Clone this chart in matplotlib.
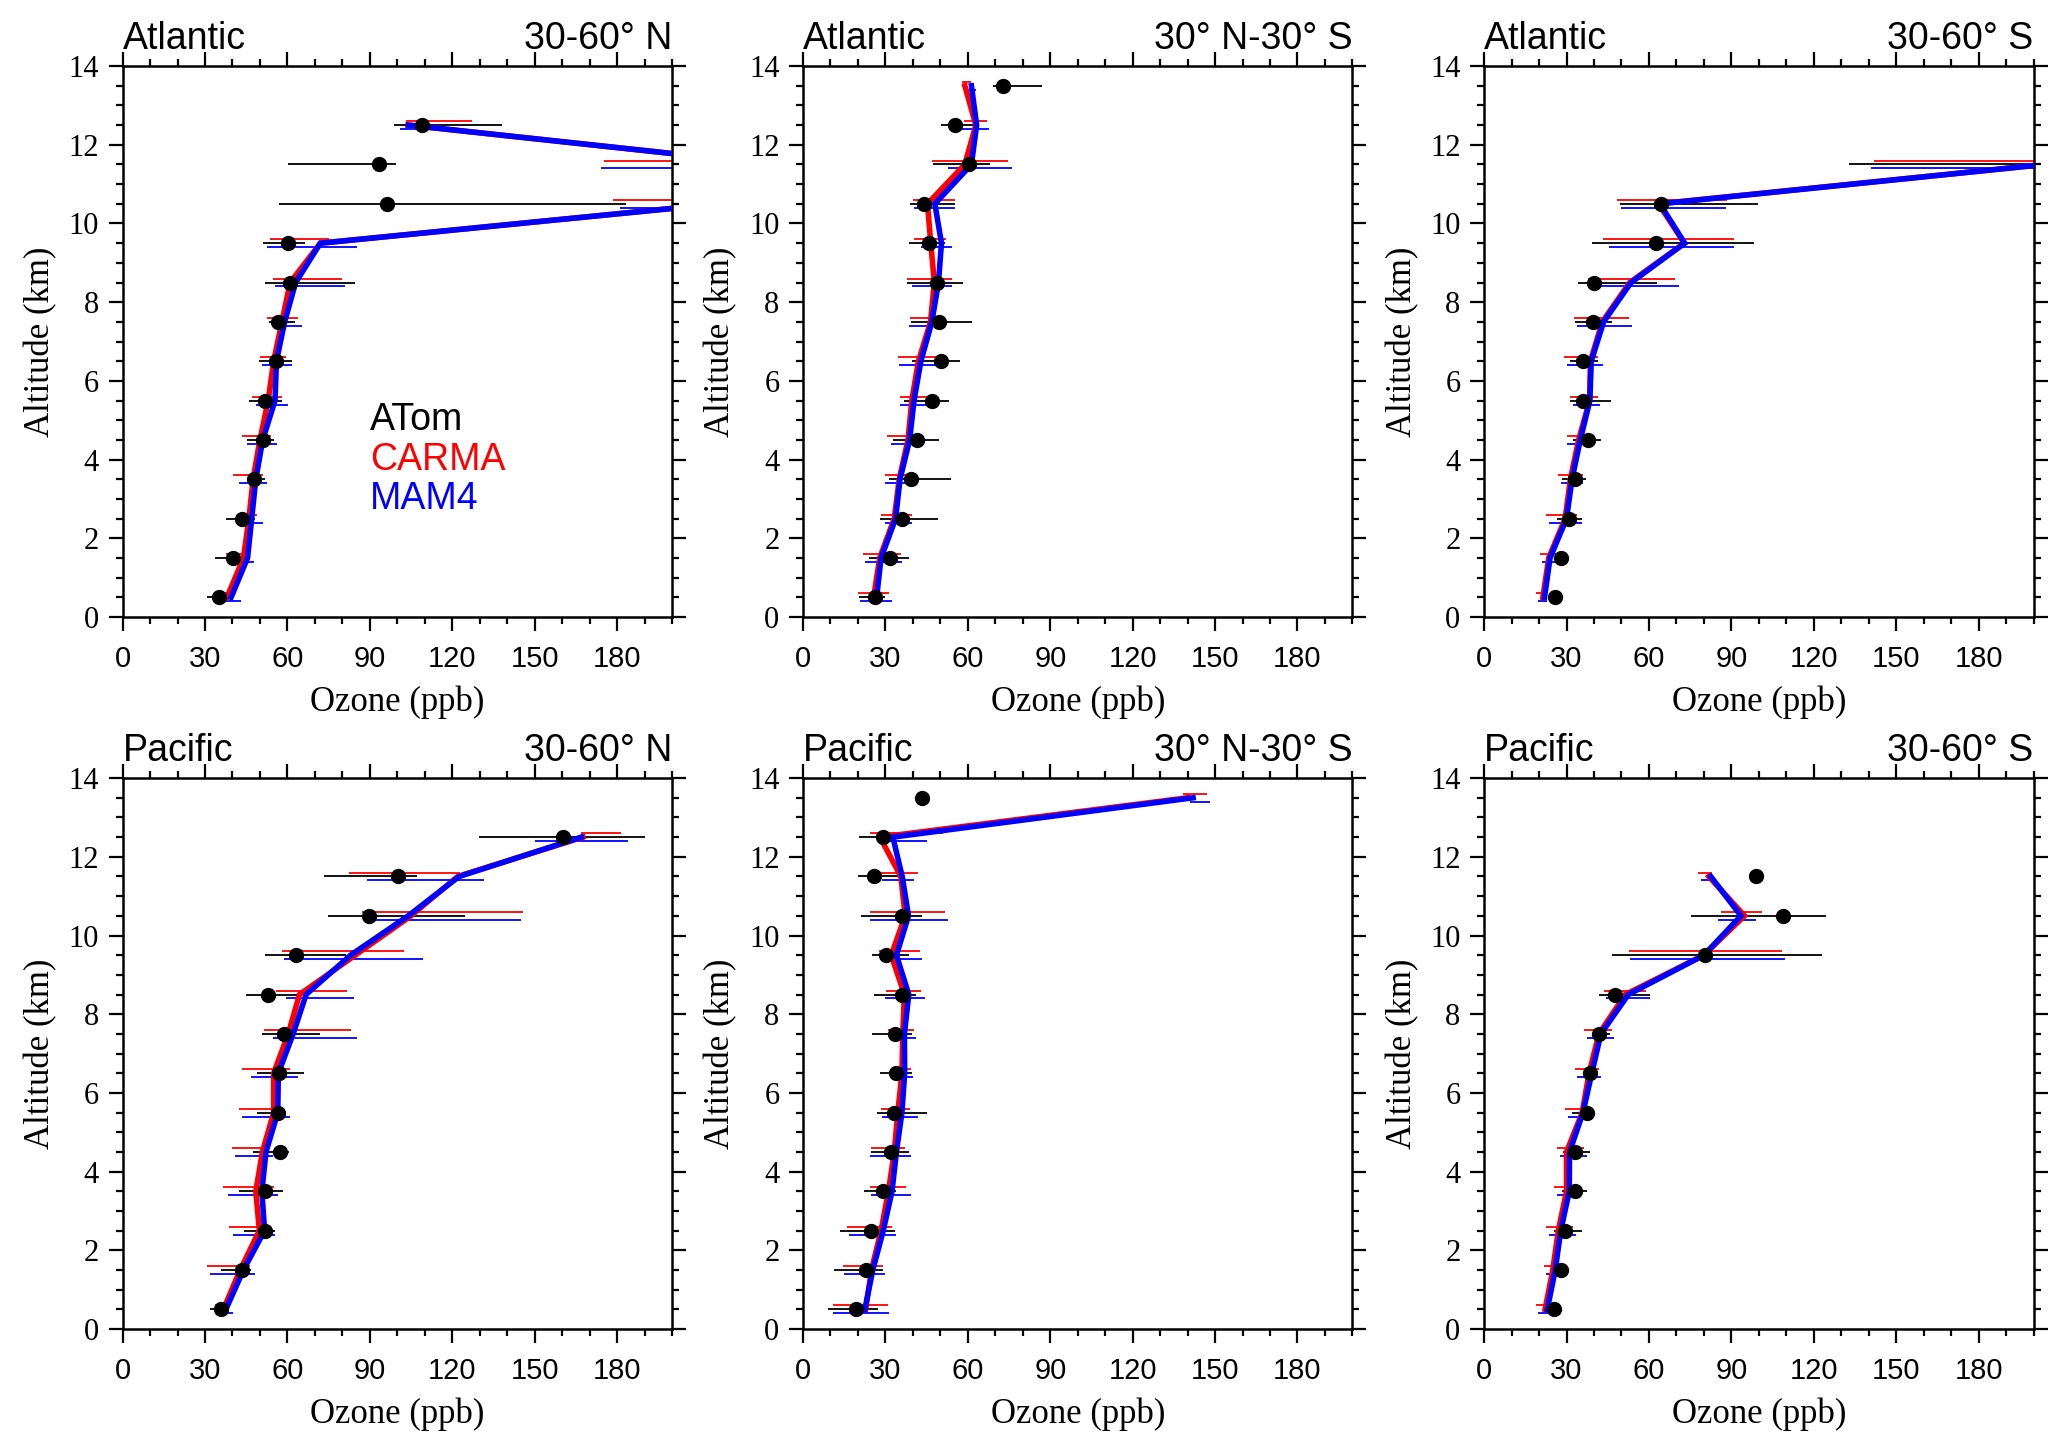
import numpy as np
import matplotlib
matplotlib.use('Agg')
import matplotlib.pyplot as plt

nan = np.nan

# altitude bins (km), ATom observations and the two model runs
levels = [0.5, 1.5, 2.5, 3.5, 4.5, 5.5, 6.5, 7.5, 8.5, 9.5, 10.5, 11.5, 12.5, 13.5]
xticks = [0, 30, 60, 90, 120, 150, 180]
xtick_labels = ['0', '30', '60', '90', '120', '150', '180']
yticks = [0, 2, 4, 6, 8, 10, 12, 14]
ytick_labels = ['0', '2', '4', '6', '8', '10', '12', '14']
basins = ['Atlantic', 'Atlantic', 'Atlantic', 'Pacific', 'Pacific', 'Pacific']
bands = ['30-60\u00b0 N', '30\u00b0 N-30\u00b0 S', '30-60\u00b0 S',
         '30-60\u00b0 N', '30\u00b0 N-30\u00b0 S', '30-60\u00b0 S']
legend_names = ['ATom', 'CARMA', 'MAM4']

# Atlantic 30-60N
atl_n_atom = [35.1, 40.3, 43.3, 47.8, 51.0, 51.7, 55.8, 56.6, 60.8, 60.2, 96.3, 93.3, 109.0, nan]
atl_n_atom_lo = [30.6, 33.5, 37.7, 45.5, 45.2, 45.9, 49.8, 53.3, 51.7, 51.1, 56.9, 60.3, 98.9, nan]
atl_n_atom_hi = [38.4, 44.6, 48.1, 51.7, 55.3, 57.9, 61.5, 62.8, 84.7, 66.3, 183.4, 99.5, 138.2, nan]
atl_n_carma = [38.0, 44.0, 46.0, 47.5, 50.0, 53.0, 55.0, 58.0, 61.0, 72.0, 217.0, 237.0, 104.0, nan]
atl_n_carma_lo = [36.4, 37.7, 41.6, 40.3, 43.4, 47.0, 50.2, 52.7, 54.6, 53.7, 178.7, 175.3, 103.0, nan]
atl_n_carma_hi = [41.3, 46.5, 48.9, 51.0, 54.0, 58.2, 59.5, 63.9, 80.0, 75.0, 255.0, 299.0, 127.2, nan]
atl_n_mam4 = [39.5, 45.5, 47.0, 48.5, 51.0, 55.5, 56.0, 59.0, 63.0, 72.0, 217.0, 237.0, 104.0, nan]
atl_n_mam4_lo = [33.5, 40.0, 43.3, 42.4, 45.4, 48.6, 50.9, 54.6, 55.4, 52.7, 181.0, 174.0, 101.0, nan]
atl_n_mam4_hi = [43.0, 48.0, 51.0, 52.7, 56.3, 60.3, 61.5, 65.2, 81.1, 85.5, 253.0, 300.0, 118.4, nan]

# Atlantic 30N-30S
atl_t_atom = [26.3, 31.6, 36.0, 39.3, 41.4, 47.0, 50.1, 49.4, 48.8, 45.7, 44.1, 60.5, 55.5, 72.9]
atl_t_atom_lo = [20.4, 24.1, 27.9, 31.3, 32.7, 36.8, 39.6, 39.3, 37.7, 38.5, 38.8, 47.2, 50.4, 69.0]
atl_t_atom_hi = [29.7, 38.5, 49.0, 53.8, 49.6, 53.0, 57.1, 61.6, 58.1, 51.7, 55.5, 68.0, 62.9, 87.0]
atl_t_carma = [25.7, 27.9, 33.2, 35.0, 38.2, 39.6, 42.0, 46.4, 47.8, 46.5, 45.3, 58.9, 62.9, 58.9]
atl_t_carma_lo = [20.0, 21.7, 28.4, 29.7, 30.5, 35.2, 34.5, 38.8, 37.7, 40.4, 40.0, 46.9, 58.6, 57.8]
atl_t_carma_hi = [31.3, 35.6, 39.6, 41.0, 42.5, 45.3, 49.0, 50.0, 54.1, 52.2, 55.5, 74.6, 67.1, 61.3]
atl_t_mam4 = [26.8, 28.4, 33.7, 35.3, 38.8, 40.4, 42.9, 46.9, 49.3, 50.4, 48.0, 61.3, 63.2, 61.3]
atl_t_mam4_lo = [20.7, 22.5, 29.7, 30.0, 31.9, 35.2, 34.8, 38.5, 39.6, 42.9, 40.4, 52.6, 57.8, 59.5]
atl_t_mam4_hi = [32.3, 36.0, 39.6, 41.0, 44.1, 46.4, 48.5, 50.0, 54.1, 54.3, 55.5, 75.9, 67.7, 63.0]

# Atlantic 30-60S
atl_s_atom = [25.8, 27.9, 31.0, 33.0, 38.0, 36.0, 36.0, 39.7, 40.0, 62.7, 64.4, 205.0, nan, nan]
atl_s_atom_lo = [24.3, 26.0, 26.6, 28.2, 32.4, 31.1, 31.4, 33.0, 34.0, 39.2, 49.3, 133.0, nan, nan]
atl_s_atom_hi = [27.4, 29.8, 35.5, 37.1, 42.5, 46.2, 41.6, 46.7, 62.9, 98.2, 99.8, 277.0, nan, nan]
atl_s_carma = [21.4, 23.5, 29.5, 31.4, 34.4, 38.4, 38.7, 43.0, 53.0, 72.9, 63.5, 204.0, nan, nan]
atl_s_carma_lo = [19.0, 20.3, 22.7, 27.0, 30.0, 31.4, 29.0, 32.7, 38.0, 43.4, 48.3, 142.0, nan, nan]
atl_s_carma_hi = [22.7, 27.9, 33.9, 36.0, 40.0, 41.3, 41.6, 52.7, 69.4, 91.0, 88.3, 266.0, nan, nan]
atl_s_mam4 = [22.0, 24.0, 30.0, 32.0, 35.0, 38.5, 39.0, 43.5, 53.5, 73.0, 64.0, 204.0, nan, nan]
atl_s_mam4_lo = [19.8, 20.9, 23.8, 27.9, 30.3, 32.4, 30.0, 33.9, 40.8, 45.4, 50.0, 141.0, nan, nan]
atl_s_mam4_hi = [23.0, 27.9, 35.5, 36.0, 39.5, 42.1, 43.3, 54.0, 71.0, 91.0, 88.0, 267.0, nan, nan]

# Pacific 30-60N
pac_n_atom = [35.9, 43.6, 51.9, 51.7, 57.2, 56.6, 56.9, 58.9, 52.8, 63.1, 89.8, 100.2, 160.3, nan]
pac_n_atom_lo = [31.9, 35.9, 44.1, 42.3, 47.5, 49.1, 49.1, 50.7, 44.9, 51.9, 74.8, 73.2, 129.8, nan]
pac_n_atom_hi = [38.4, 46.8, 55.4, 58.4, 60.5, 59.5, 66.0, 71.9, 64.7, 81.5, 124.6, 107.3, 190.0, nan]
pac_n_carma = [36.7, 42.8, 49.8, 48.5, 50.9, 55.0, 55.0, 60.3, 64.4, 84.7, 105.0, 122.0, 167.6, nan]
pac_n_carma_lo = [33.5, 30.9, 38.7, 36.7, 39.7, 42.4, 43.6, 51.4, 55.9, 58.2, 87.2, 82.6, 167.0, nan]
pac_n_carma_hi = [39.2, 46.5, 53.8, 55.0, 53.3, 58.5, 61.1, 83.3, 81.6, 102.6, 145.7, 122.9, 181.5, nan]
pac_n_mam4 = [37.6, 44.0, 51.7, 50.7, 52.2, 56.5, 56.7, 62.1, 66.8, 83.0, 104.0, 122.5, 167.0, nan]
pac_n_mam4_lo = [34.0, 31.9, 40.3, 38.5, 41.0, 43.4, 46.8, 54.6, 59.5, 58.9, 90.7, 89.0, 150.0, nan]
pac_n_mam4_hi = [40.3, 48.1, 55.4, 56.7, 54.6, 60.8, 64.0, 85.5, 84.2, 109.3, 144.9, 131.5, 184.0, nan]

# Pacific 30N-30S
pac_t_atom = [19.3, 22.8, 24.9, 29.2, 32.1, 33.2, 34.0, 33.4, 36.1, 30.2, 36.1, 25.7, 29.2, 43.2]
pac_t_atom_lo = [9.0, 11.2, 13.6, 22.2, 24.7, 27.0, 27.9, 25.0, 26.0, 25.0, 21.2, 19.9, 20.4, 42.0]
pac_t_atom_hi = [27.3, 29.2, 33.5, 34.0, 38.4, 45.3, 39.6, 39.6, 41.3, 38.4, 43.3, 35.6, 34.0, 44.4]
pac_t_carma = [22.8, 24.9, 28.4, 31.1, 33.2, 34.5, 36.0, 36.3, 36.9, 32.1, 37.2, 35.6, 28.0, 140.0]
pac_t_carma_lo = [10.8, 14.4, 16.0, 24.4, 24.9, 28.3, 32.1, 31.1, 30.3, 27.6, 24.4, 27.6, 24.4, 138.4]
pac_t_carma_hi = [31.1, 29.2, 32.4, 37.6, 37.2, 38.8, 39.2, 40.4, 42.9, 42.4, 51.7, 41.7, 50.9, 147.2]
pac_t_mam4 = [22.5, 25.4, 29.2, 32.4, 34.0, 36.0, 37.0, 36.9, 38.5, 34.0, 38.4, 36.1, 32.7, 142.0]
pac_t_mam4_lo = [10.9, 14.8, 16.7, 24.7, 24.4, 28.7, 32.1, 31.8, 30.0, 28.9, 24.2, 28.7, 26.8, 140.8]
pac_t_mam4_hi = [31.3, 29.7, 33.7, 39.2, 39.2, 42.0, 40.0, 41.1, 44.3, 43.2, 52.6, 40.4, 45.3, 148.0]

# Pacific 30-60S
pac_s_atom = [25.6, 27.9, 29.5, 33.1, 33.1, 37.3, 38.4, 41.7, 47.8, 80.5, 108.9, 98.9, nan, nan]
pac_s_atom_lo = [24.5, 26.8, 25.4, 28.2, 28.7, 31.9, 36.8, 39.2, 41.7, 46.5, 75.2, 98.0, nan, nan]
pac_s_atom_hi = [26.7, 29.0, 35.7, 37.6, 38.4, 40.0, 41.0, 45.7, 60.3, 122.9, 124.6, 99.8, nan, nan]
pac_s_carma = [22.2, 25.0, 27.0, 30.0, 30.0, 35.7, 38.2, 41.8, 51.4, 80.0, 94.8, 81.8, nan, nan]
pac_s_carma_lo = [19.0, 21.7, 22.7, 25.4, 26.7, 29.5, 33.1, 36.5, 43.6, 52.7, 86.2, 78.0, nan, nan]
pac_s_carma_hi = [24.6, 28.2, 32.3, 34.4, 36.5, 38.4, 41.7, 46.5, 59.0, 108.4, 101.3, 83.0, nan, nan]
pac_s_mam4 = [23.0, 25.9, 27.9, 31.0, 31.1, 36.0, 39.2, 42.5, 52.5, 80.0, 93.5, 82.5, nan, nan]
pac_s_mam4_lo = [19.8, 22.7, 23.8, 26.6, 27.6, 30.6, 33.7, 37.6, 44.4, 53.0, 85.0, 79.0, nan, nan]
pac_s_mam4_hi = [25.9, 29.5, 33.4, 35.0, 37.3, 40.0, 42.5, 47.3, 60.3, 109.7, 98.9, 84.0, nan, nan]

panels = [
    (atl_n_atom, atl_n_atom_lo, atl_n_atom_hi, atl_n_carma, atl_n_carma_lo, atl_n_carma_hi,
     atl_n_mam4, atl_n_mam4_lo, atl_n_mam4_hi),
    (atl_t_atom, atl_t_atom_lo, atl_t_atom_hi, atl_t_carma, atl_t_carma_lo, atl_t_carma_hi,
     atl_t_mam4, atl_t_mam4_lo, atl_t_mam4_hi),
    (atl_s_atom, atl_s_atom_lo, atl_s_atom_hi, atl_s_carma, atl_s_carma_lo, atl_s_carma_hi,
     atl_s_mam4, atl_s_mam4_lo, atl_s_mam4_hi),
    (pac_n_atom, pac_n_atom_lo, pac_n_atom_hi, pac_n_carma, pac_n_carma_lo, pac_n_carma_hi,
     pac_n_mam4, pac_n_mam4_lo, pac_n_mam4_hi),
    (pac_t_atom, pac_t_atom_lo, pac_t_atom_hi, pac_t_carma, pac_t_carma_lo, pac_t_carma_hi,
     pac_t_mam4, pac_t_mam4_lo, pac_t_mam4_hi),
    (pac_s_atom, pac_s_atom_lo, pac_s_atom_hi, pac_s_carma, pac_s_carma_lo, pac_s_carma_hi,
     pac_s_mam4, pac_s_mam4_lo, pac_s_mam4_hi),
]

SANS = 'Liberation Sans'
SERIF = 'Liberation Serif'

fig = plt.figure(figsize=(20.67, 14.46), dpi=100)

lefts = [0.0593, 0.3885, 0.718]
bottoms = [0.5733, 0.0809]
w, h = 0.2658, 0.381

z = np.array(levels)
for i, data in enumerate(panels):
    atom, atom_lo, atom_hi, carma, carma_lo, carma_hi, mam4, mam4_lo, mam4_hi = data
    ax = fig.add_axes([lefts[i % 3], bottoms[i // 3], w, h])

    # error bars: obs at the bin centre, CARMA 0.1 km above, MAM4 0.1 km below
    ax.hlines(z, atom_lo, atom_hi, color='black', lw=1.3, zorder=2)
    ax.hlines(z + 0.1, carma_lo, carma_hi, color='red', lw=1.3, zorder=2)
    ax.hlines(z - 0.1, mam4_lo, mam4_hi, color='blue', lw=1.3, zorder=2)

    ax.plot(carma, z, color='red', lw=4, zorder=3, solid_joinstyle='miter')
    ax.plot(mam4, z, color='blue', lw=4, zorder=4, solid_joinstyle='miter')
    ax.plot(atom, z, 'o', color='black', ms=10, ls='none', zorder=5)

    ax.set_xlim(0, 200)
    ax.set_ylim(0, 14)
    ax.set_xticks(xticks)
    ax.set_xticklabels(xtick_labels, fontfamily=SANS, fontsize=21)
    ax.set_xticks(np.arange(0, 201, 10), minor=True)
    ax.set_yticks(yticks)
    ax.set_yticklabels(ytick_labels, fontfamily=SERIF, fontsize=22)
    ax.set_yticks(np.arange(0, 14.01, 0.5), minor=True)
    ax.tick_params(which='both', direction='out', top=True, right=True, width=1.6)
    ax.tick_params(which='major', length=10)
    ax.tick_params(axis='x', which='major', pad=10)
    ax.tick_params(axis='y', which='major', pad=7)
    ax.tick_params(which='minor', length=5)
    for s in ax.spines.values():
        s.set_linewidth(1.8)

    ax.set_xlabel('Ozone (ppb)', fontfamily=SERIF, fontsize=25, labelpad=9)
    ax.set_ylabel('Altitude (km)', fontfamily=SERIF, fontsize=25, labelpad=8)
    ax.set_title(basins[i], loc='left', fontfamily=SANS, fontsize=27, pad=12)
    ax.set_title(bands[i], loc='right', fontfamily=SANS, fontsize=27, pad=12)

    if i == 0:
        for name, col, yy in zip(legend_names, ['black', 'red', 'blue'], [5.0, 4.0, 3.0]):
            ax.text(90, yy, name, color=col, fontfamily=SANS, fontsize=27,
                    ha='left', va='center')

plt.savefig('out.png', dpi=100)
